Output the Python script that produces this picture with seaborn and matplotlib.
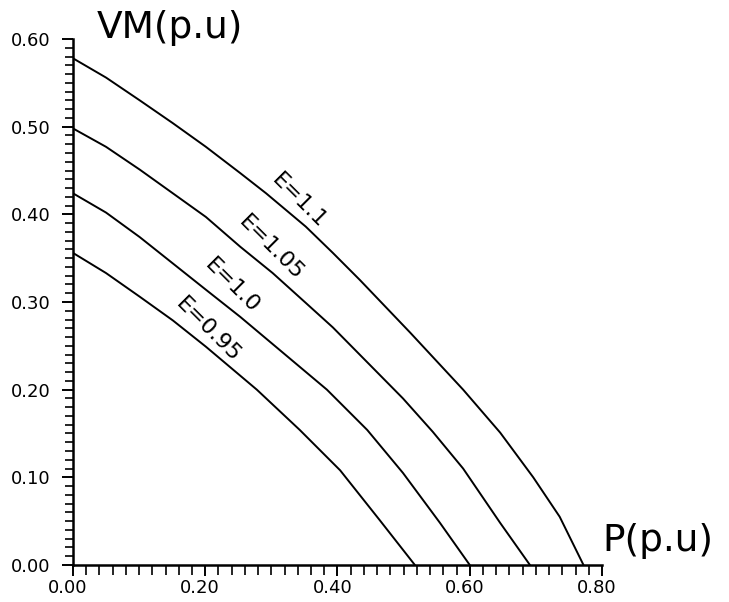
import numpy as np
import pandas as pd
import matplotlib
matplotlib.use("Agg")
import matplotlib.pyplot as plt
import matplotlib.transforms as mtransforms
from matplotlib.ticker import MultipleLocator, FormatStrFormatter
import seaborn as sns

# ---- data ----
p_e110 = [0.000, 0.050, 0.101, 0.151, 0.201, 0.253, 0.292, 0.352, 0.393, 0.434, 0.510, 0.590, 0.646, 0.696, 0.736, 0.772]
v_e110 = [0.578, 0.556, 0.530, 0.504, 0.477, 0.447, 0.424, 0.386, 0.356, 0.325, 0.265, 0.200, 0.151, 0.100, 0.055, 0.000]

p_e105 = [0.000, 0.050, 0.101, 0.151, 0.201, 0.253, 0.302, 0.352, 0.393, 0.499, 0.544, 0.590, 0.646, 0.691]
v_e105 = [0.498, 0.477, 0.451, 0.424, 0.397, 0.363, 0.333, 0.299, 0.271, 0.190, 0.152, 0.110, 0.048, 0.000]

p_e100 = [0.000, 0.050, 0.101, 0.151, 0.201, 0.253, 0.313, 0.384, 0.445, 0.499, 0.555, 0.600]
v_e100 = [0.424, 0.402, 0.374, 0.344, 0.314, 0.283, 0.245, 0.200, 0.154, 0.105, 0.048, 0.000]

p_e095 = [0.000, 0.050, 0.101, 0.151, 0.201, 0.278, 0.343, 0.404, 0.464, 0.517]
v_e095 = [0.356, 0.333, 0.306, 0.279, 0.249, 0.200, 0.154, 0.108, 0.051, 0.000]

curve_names = ["E=1.1", "E=1.05", "E=1.0", "E=0.95"]
label_p = [0.342, 0.299, 0.240, 0.204]
label_v = [0.416, 0.362, 0.319, 0.268]

x_ticks = [0.00, 0.20, 0.40, 0.60, 0.80]
y_ticks = [0.00, 0.10, 0.20, 0.30, 0.40, 0.50, 0.60]

frames = []
for name, p, v in zip(curve_names,
                      [p_e110, p_e105, p_e100, p_e095],
                      [v_e110, v_e105, v_e100, v_e095]):
    frames.append(pd.DataFrame({"P": p, "VM": v, "E": name}))
df = pd.concat(frames, ignore_index=True)

sns.set_style("ticks")
plt.rcParams["font.family"] = ["DejaVu Sans"]
plt.rcParams["text.color"] = "black"

fig = plt.figure(figsize=(7.29, 6.02), dpi=100)
ax = fig.add_axes([0.1001, 0.0615, 0.7257, 0.8737])

sns.lineplot(data=df, x="P", y="VM", hue="E", units="E", estimator=None, sort=False,
             palette=["black"] * 4, linewidth=1.4, legend=False, ax=ax)

for name, px, py in zip(curve_names, label_p, label_v):
    ax.text(px, py, name, rotation=-45, rotation_mode="anchor", ha="center", va="center",
            fontsize=16, color="black")

ax.set_xlim(0, 0.80)
ax.set_ylim(0, 0.60)
ax.set_xticks(x_ticks)
ax.set_yticks(y_ticks)
ax.xaxis.set_major_formatter(FormatStrFormatter("%.2f"))
ax.yaxis.set_major_formatter(FormatStrFormatter("%.2f"))
ax.xaxis.set_minor_locator(MultipleLocator(0.02))
ax.yaxis.set_minor_locator(MultipleLocator(0.01))
ax.set_xlabel("")
ax.set_ylabel("")

for s in ["top", "right"]:
    ax.spines[s].set_visible(False)
for s in ["left", "bottom"]:
    ax.spines[s].set_linewidth(1.8)
    ax.spines[s].set_color("black")

ax.tick_params(axis="y", which="major", length=8, width=1.4, pad=8, labelsize=13, colors="black")
ax.tick_params(axis="y", which="minor", length=6, width=1.2, colors="black")
ax.tick_params(axis="x", which="major", length=8, width=1.4, pad=2, labelsize=13, colors="black")
ax.tick_params(axis="x", which="minor", length=7, width=1.2, colors="black")

offset = mtransforms.ScaledTranslation(-5 / 100, 0, fig.dpi_scale_trans)
for lab in ax.get_xticklabels():
    lab.set_transform(lab.get_transform() + offset)

fig.text(97 / 729, 1 - 38 / 602, "VM(p.u)", fontsize=27, ha="left", va="baseline", color="black")
fig.text(602 / 729, 1 - 551 / 602, "P(p.u)", fontsize=27, ha="left", va="baseline", color="black")

fig.savefig("out.png", dpi=100, facecolor="white")
